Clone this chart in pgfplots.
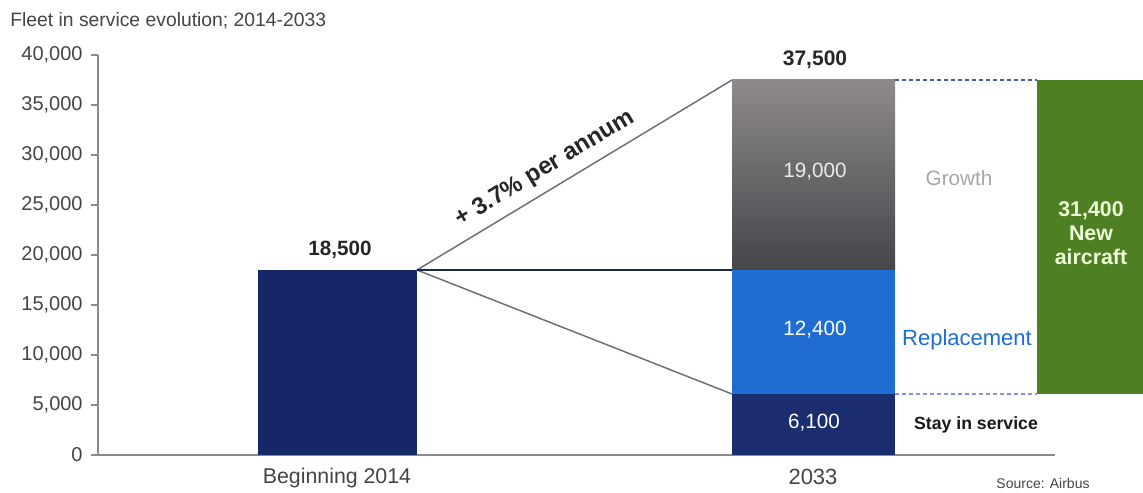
\documentclass[border=0pt]{standalone}
\usepackage{pgfplots}
\pgfplotsset{compat=1.18}
\usepackage{fontspec}
\setmainfont{Liberation Sans}

\definecolor{navyA}{HTML}{142868}
\definecolor{navyB}{HTML}{1A2D6E}
\definecolor{blueR}{HTML}{1F6CD2}
\definecolor{grayTop}{HTML}{8E8A8B}
\definecolor{grayBot}{HTML}{46454A}
\definecolor{greenN}{HTML}{4E7F22}
\definecolor{lineGray}{HTML}{6A6E7A}
\definecolor{lineDark}{HTML}{1C2B4A}
\definecolor{dashTop}{HTML}{3F5FA8}
\definecolor{dashBot}{HTML}{8595D5}
\definecolor{tickGray}{HTML}{444444}
\definecolor{axisGray}{HTML}{8A8A8A}

% 1 px of the reference = 0.75pt; x axis units are pixels, y axis units are aircraft
\begin{document}
\begin{tikzpicture}
\begin{axis}[
    scale only axis,
    width=717.75pt, height=300pt,
    xmin=98, xmax=1055,
    ymin=0, ymax=40000,
    axis x line*=bottom, axis y line*=left,
    axis line style={axisGray, line width=1.5pt},
    xtick=\empty,
    ytick={0,5000,...,40000},
    scaled y ticks=false,
    tick align=outside,
    major tick length=5pt,
    tick style={axisGray, line width=1pt},
    /pgf/number format/1000 sep={,},
    /pgf/number format/assume math mode=true,
    yticklabel style={font=\fontsize{15}{17}\selectfont, color=tickGray, xshift=-3pt},
    clip=false,
]

% page extent of the reference
\path (axis cs:0,45500) rectangle (axis cs:1143,-3700);

% bars
\addplot[draw=none, fill=navyA] coordinates {(258,0)(417,0)(417,18500)(258,18500)} -- cycle;
\addplot[draw=none, fill=navyB] coordinates {(732,0)(895,0)(895,6100)(732,6100)} -- cycle;
\addplot[draw=none, fill=blueR] coordinates {(732,6100)(895,6100)(895,18500)(732,18500)} -- cycle;
\addplot[draw=none, top color=grayTop, bottom color=grayBot] coordinates {(732,18500)(895,18500)(895,37500)(732,37500)} -- cycle;
\addplot[draw=none, fill=greenN] coordinates {(1037,6100)(1143,6100)(1143,37500)(1037,37500)} -- cycle;

% connecting lines
\addplot[lineGray, line width=1.1pt] coordinates {(417,18500)(732,37500)};
\addplot[lineGray, line width=1.1pt] coordinates {(417,18500)(732,6100)};
\addplot[lineDark, line width=2pt] coordinates {(417,18500)(732,18500)};
\addplot[dashTop, line width=1.2pt, dash pattern=on 3pt off 2.25pt] coordinates {(895,37500)(1037,37500)};
\addplot[dashBot, line width=1.2pt, dash pattern=on 3pt off 2.25pt] coordinates {(895,6100)(1037,6100)};

% texts
\node[anchor=west, inner sep=0pt, text=tickGray, font=\fontsize{14.5}{17}\selectfont] at (axis cs:10,43400) {Fleet in service evolution; 2014-2033};
\node[font=\fontsize{15.5}{18}\selectfont\bfseries, text=black!85] at (axis cs:340,20500) {18,500};
\node[font=\fontsize{15.75}{18}\selectfont\bfseries, text=black!85] at (axis cs:815,39500) {37,500};
\node[font=\fontsize{15.5}{18}\selectfont, text=white!85!gray] at (axis cs:815,28300) {19,000};
\node[font=\fontsize{15.5}{18}\selectfont, text=white] at (axis cs:815,12500) {12,400};
\node[font=\fontsize{15.5}{18}\selectfont, text=white] at (axis cs:814,3200) {6,100};
\node[font=\fontsize{15.5}{18}\selectfont, text=gray!70] at (axis cs:959,27700) {Growth};
\node[font=\fontsize{16.5}{18}\selectfont, text=blueR] at (axis cs:967,11500) {Replacement};
\node[font=\fontsize{13.25}{16}\selectfont\bfseries, text=black!90] at (axis cs:976,3000) {Stay in service};
\node[align=center, font=\fontsize{16}{18}\selectfont\bfseries, text=green!8!white!92!yellow] at (axis cs:1091,22200) {31,400\\New\\aircraft};
\node[rotate=31.1, inner sep=0pt, font=\fontsize{18}{20}\selectfont\bfseries, text=black!85] at (axis cs:545,28600) {+ 3.7\% per annum};
\node[font=\fontsize{16}{18}\selectfont, text=tickGray] at (axis cs:337,-2300) {Beginning 2014};
\node[font=\fontsize{16.5}{18}\selectfont, text=tickGray] at (axis cs:813,-2200) {2033};
\node[font=\fontsize{10.5}{12}\selectfont, text=tickGray] at (axis cs:1043,-2800) {Source: Airbus};

\end{axis}
\end{tikzpicture}
\end{document}
